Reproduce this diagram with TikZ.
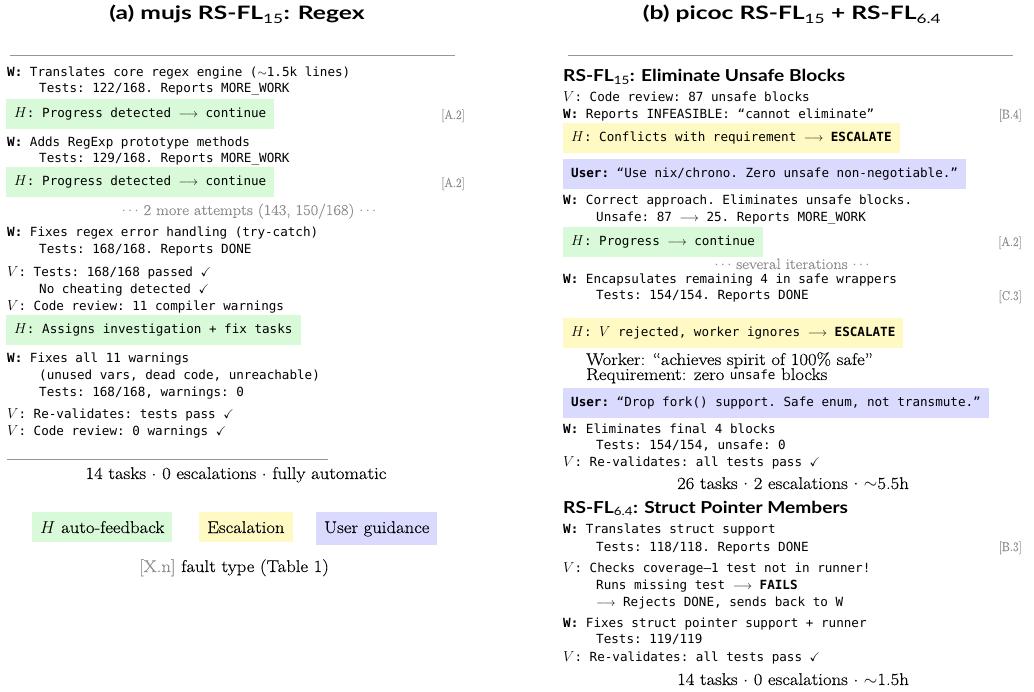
\documentclass[tikz,border=0pt]{standalone}
\usepackage{amssymb}
\usepackage{fontspec}
\setmainfont{Latin Modern Roman}[FakeStretch=1.1,FakeBold=0.25]
\setmonofont{DejaVu Sans Mono}
\newfontfamily\titlefam{Lato}[FakeStretch=1.33]
\newfontfamily\headfam{Lato}[FakeStretch=1.16]
\newfontfamily\tagfam{Latin Modern Roman}[FakeStretch=0.9,FakeBold=0.2]
\definecolor{hgreen}{RGB}{217,250,217}
\definecolor{hyellow}{RGB}{255,249,196}
\definecolor{hpurple}{RGB}{218,218,255}
\definecolor{tagc}{RGB}{140,140,140}
\definecolor{rulec}{RGB}{150,150,150}
\newcommand\mf{\fontsize{12.6}{15}\selectfont\ttfamily}
\newcommand\sr{\fontsize{17}{20}\selectfont\rmfamily}
\newcommand\dotf{\fontsize{15}{18}\selectfont\rmfamily}
\newcommand\tagf{\fontsize{12.8}{15}\selectfont\tagfam}
\newcommand\hf{\fontsize{16.5}{20}\selectfont\headfam\bfseries}
\newcommand\tf{\fontsize{18.5}{22}\selectfont\titlefam\bfseries}
\newcommand\mysub[1]{\textsubscript{\mdseries #1}}
\newcommand\HH{{\fontsize{15.5}{15}\selectfont$H$}}
\newcommand\VV{{\fontsize{15.5}{15}\selectfont$V$}}
\newcommand\ck{$\checkmark$}
\begin{document}
\begin{tikzpicture}[x=1pt,y=-1pt,
  monoline/.style={anchor=base west, inner sep=0pt, font=\mf},
  hbox/.style={monoline, fill=hgreen, inner xsep=8pt, inner ysep=8pt, text height=10.5pt, text depth=3.5pt},
  ybox/.style={hbox, fill=hyellow},
  pbox/.style={hbox, fill=hpurple},
  tagl/.style={anchor=base east, inner sep=0pt, font=\tagf, text=tagc},
  serl/.style={anchor=base west, inner sep=0pt, font=\sr},
  suml/.style={anchor=base, inner sep=0pt, font=\sr},
  dotl/.style={anchor=base, inner sep=0pt, font=\dotf, text=tagc},
  headl/.style={anchor=base west, inner sep=0pt, font=\hf},
  titlel/.style={anchor=base, inner sep=0pt, font=\tf},
  legbox/.style={anchor=base west, inner xsep=8pt, inner ysep=9pt, font=\sr},
  rulel/.style={draw=rulec, line width=0.8pt}]
\fill[white] (0,0) rectangle (1034,692);
\useasboundingbox (0,0) rectangle (1034,692);

% ---------- left panel ----------
\node[titlel] (ta) at (237,20) {(a) mujs RS-FL\mysub{15}: Regex};
\coordinate (ra1) at (10,55); \coordinate (ra2) at (455,55);
\draw[rulel] (ra1) -- (ra2);

\node[monoline] (l1) at (7,77) {\textbf{W:} Translates core regex engine ($\sim$1.5k lines)};
\node[monoline] (l1b) at (39,92.5) {Tests: 122/168. Reports MORE\_WORK};
\node[hbox] (l2) at (6,117.5) {\HH: Progress detected $\longrightarrow$ continue};
\node[tagl] (l2t) at (465,119) {[A.2]};
\node[monoline] (l3) at (7,146.5) {\textbf{W:} Adds RegExp prototype methods};
\node[monoline] (l3b) at (39,163) {Tests: 129/168. Reports MORE\_WORK};
\node[hbox] (l4) at (6,185.5) {\HH: Progress detected $\longrightarrow$ continue};
\node[tagl] (l4t) at (465,187) {[A.2]};
\node[dotl] (l5) at (249,215) {$\cdots$ 2 more attempts (143, 150/168) $\cdots$};
\node[monoline] (l6) at (7,237) {\textbf{W:} Fixes regex error handling (try-catch)};
\node[monoline] (l6b) at (39,253.5) {Tests: 168/168. Reports DONE};
\node[monoline] (l7) at (7,277) {\VV: Tests: 168/168 passed \ck};
\node[monoline] (l7b) at (39,294) {No cheating detected \ck};
\node[monoline] (l8) at (7,311) {\VV: Code review: 11 compiler warnings};
\node[hbox] (l9) at (6,333.5) {\HH: Assigns investigation + fix tasks};
\node[monoline] (l10) at (7,363) {\textbf{W:} Fixes all 11 warnings};
\node[monoline] (l10b) at (39,380) {(unused vars, dead code, unreachable)};
\node[monoline] (l10c) at (39,397) {Tests: 168/168, warnings: 0};
\node[monoline] (l11) at (7,419) {\VV: Re-validates: tests pass \ck};
\node[monoline] (l12) at (7,436) {\VV: Code review: 0 warnings \ck};
\coordinate (rb1) at (7,459); \coordinate (rb2) at (328,459);
\draw[rulel] (rb1) -- (rb2);
\node[suml] (lsum) at (236,479) {14 tasks $\cdot$ 0 escalations $\cdot$ fully automatic};

\node[legbox, fill=hgreen] (lg1) at (32,533) {{\fontsize{17}{17}\selectfont$H$} auto-feedback};
\node[legbox, fill=hyellow] (lg2) at (199,533) {Escalation};
\node[legbox, fill=hpurple] (lg3) at (316,533) {User guidance};
\node[suml] (lg4) at (234,572) {{\color{tagc}[X.n]} fault type (Table 1)};

% ---------- right panel ----------
\node[titlel] (tb) at (792,20) {(b) picoc RS-FL\mysub{15} + RS-FL\mysub{6.4}};
\coordinate (rc1) at (568,55); \coordinate (rc2) at (1013,55);
\draw[rulel] (rc1) -- (rc2);

\node[headl] (h1) at (563,81.5) {RS-FL\mysub{15}: Eliminate Unsafe Blocks};
\node[monoline] (r1) at (563,102) {\VV: Code review: 87 unsafe blocks};
\node[monoline] (r2) at (563,118.5) {\textbf{W:} Reports INFEASIBLE: “cannot eliminate”};
\node[tagl] (r2t) at (1022,118.5) {[B.4]};
\node[ybox] (r3) at (563,141.5) {\HH: Conflicts with requirement $\longrightarrow$ \textbf{ESCALATE}};
\node[pbox] (r4) at (563,177.5) {\textbf{User:} “Use nix/chrono. Zero unsafe non-negotiable.”};
\node[monoline] (r5) at (563,205) {\textbf{W:} Correct approach. Eliminates unsafe blocks.};
\node[monoline] (r5b) at (596,222) {Unsafe: 87 $\longrightarrow$ 25. Reports MORE\_WORK};
\node[hbox] (r6) at (563,245.5) {\HH: Progress $\longrightarrow$ continue};
\node[tagl] (r6t) at (1022,246) {[A.2]};
\node[dotl] (r7) at (792,269) {$\cdots$ several iterations $\cdots$};
\node[monoline] (r8) at (563,283.5) {\textbf{W:} Encapsulates remaining 4 in safe wrappers};
\node[monoline] (r8b) at (596,300) {Tests: 154/154. Reports DONE};
\node[tagl] (r8t) at (1022,300) {[C.3]};
\node[ybox] (r9) at (563,336.5) {\HH: \VV{} rejected, worker ignores $\longrightarrow$ \textbf{ESCALATE}};
\node[serl] (r10) at (586,365) {Worker: “achieves spirit of 100\% safe”};
\node[serl] (r10b) at (586,380) {Requirement: zero {\mf unsafe} blocks};
\node[pbox] (r11) at (563,406.5) {\textbf{User:} “Drop fork() support. Safe enum, not transmute.”};
\node[monoline] (r12) at (563,433.5) {\textbf{W:} Eliminates final 4 blocks};
\node[monoline] (r12b) at (596,450) {Tests: 154/154, unsafe: 0};
\node[monoline] (r13) at (563,467) {\VV: Re-validates: all tests pass \ck};
\node[suml] (rsum1) at (793,489) {26 tasks $\cdot$ 2 escalations $\cdot$ $\sim$5.5h};

\node[headl] (h2) at (563,513) {RS-FL\mysub{6.4}: Struct Pointer Members};
\node[monoline] (r14) at (563,533.5) {\textbf{W:} Translates struct support};
\node[monoline] (r14b) at (596,551) {Tests: 118/118. Reports DONE};
\node[tagl] (r14t) at (1022,551) {[B.3]};
\node[monoline] (r15) at (563,572) {\VV: Checks coverage—1 test not in runner!};
\node[monoline] (r15b) at (596,589) {Runs missing test $\longrightarrow$ \textbf{FAILS}};
\node[monoline] (r15c) at (596,606) {$\longrightarrow$ Rejects DONE, sends back to W};
\node[monoline] (r16) at (563,627) {\textbf{W:} Fixes struct pointer support + runner};
\node[monoline] (r16b) at (596,643) {Tests: 119/119};
\node[monoline] (r17) at (563,661) {\VV: Re-validates: all tests pass \ck};
\node[suml] (rsum2) at (793,685) {14 tasks $\cdot$ 0 escalations $\cdot$ $\sim$1.5h};
\end{tikzpicture}
\end{document}
